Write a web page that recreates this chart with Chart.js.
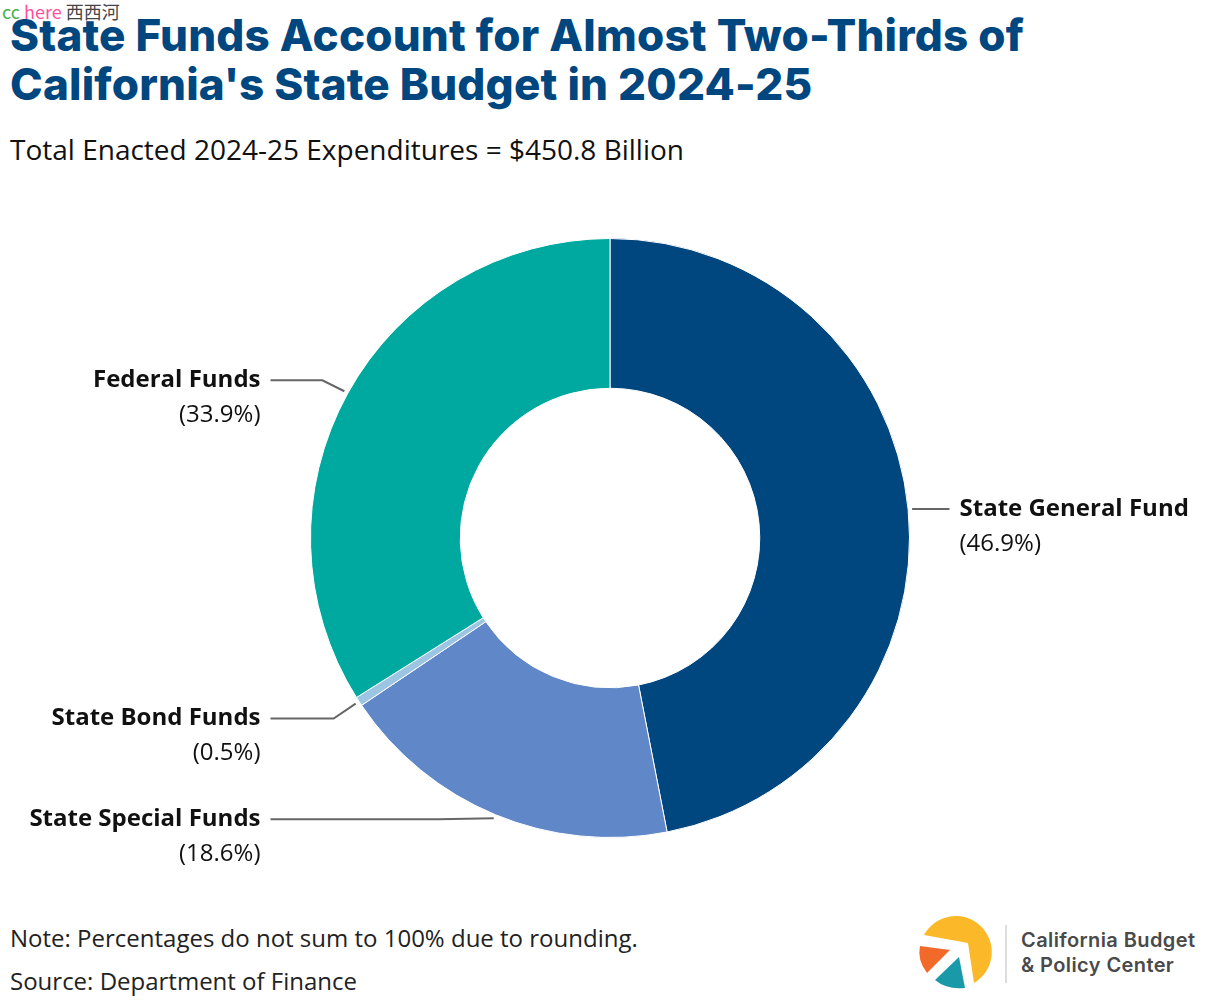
<!DOCTYPE html>
<html lang="en">
<head>
    <meta charset="UTF-8">
    <title>State Funds Account for Almost Two-Thirds of California's State Budget in 2024-25</title>
    <script src="https://cdn.jsdelivr.net/npm/chart.js"></script>
    <style>
        body { margin: 0; width: 1220px; height: 1008px; background: #fff; position: relative; overflow: hidden; font-family: "Open Sans", sans-serif; }
        .abs { position: absolute; white-space: nowrap; }
        #wm { left: 2px; top: -1px; font-size: 18px; line-height: 24px; font-family: "Noto Sans CJK SC", "Noto Sans", sans-serif; }
        #title { left: 10px; top: 11px; font-family: Inter, sans-serif; font-weight: 800; font-size: 44px; line-height: 49px; color: #00467f; letter-spacing: 0.2px; }
        #subtitle { left: 10px; top: 130px; font-size: 28px; color: #111; }
        #note { left: 10px; top: 921px; font-size: 24px; color: #222; }
        #source { left: 10px; top: 964px; font-size: 24px; color: #222; }
        #chartWrap { position: absolute; left: 0; top: 188px; width: 1220px; height: 700px; }
        #logoText { left: 1021px; top: 928px; font-family: Inter, sans-serif; font-weight: 600; font-size: 20px; line-height: 25px; color: #4a4a4a; letter-spacing: 0.4px; }
    </style>
</head>
<body>
    <div id="wm" class="abs"><span style="color:#4caf50">cc</span> <span style="color:#ff4fa0">here</span> <span style="color:#444">西西河</span></div>
    <div id="title" class="abs">State Funds Account for Almost Two-Thirds of<br>California's State Budget in 2024-25</div>
    <div id="subtitle" class="abs">Total Enacted 2024-25 Expenditures = $450.8 Billion</div>
    <div id="chartWrap"><canvas id="budgetChart"></canvas></div>
    <div id="note" class="abs">Note: Percentages do not sum to 100% due to rounding.</div>
    <div id="source" class="abs">Source: Department of Finance</div>

    <svg class="abs" style="left:900px;top:900px" width="110" height="100" viewBox="900 900 110 100">
        <path d="M924 935 A36 36 0 1 1 974 983 L968 943 Z" fill="#fbb829"/>
        <path d="M920 946 L950 950 L927 973 Q917 960 920 946 Z" fill="#f26a2a"/>
        <path d="M935 980 L959 957 L965 988 Q947 990 935 980 Z" fill="#1a9aa8"/>
        <line x1="1006" y1="925" x2="1006" y2="983" stroke="#bbb" stroke-width="1"/>
    </svg>
    <div id="logoText" class="abs">California Budget<br>&amp; Policy Center</div>

    <script>
        // data
        const categories = ['State General Fund', 'State Special Funds', 'State Bond Funds', 'Federal Funds'];
        const shares = [46.9, 18.6, 0.5, 33.9];
        const shareLabels = ['(46.9%)', '(18.6%)', '(0.5%)', '(33.9%)'];
        const sliceColors = ['#00467f', '#6087c7', '#9cc5e3', '#00a99f'];

        // label placement tweaks (y shift from slice anchor, elbow length)
        const labelShift = [0, 1, 15, -11];
        const elbowLen = [0, 55, 22, 22];

        const leaderLabels = {
            id: 'leaderLabels',
            afterDatasetsDraw(chart) {
                const ctx = chart.ctx;
                const arcs = chart.getDatasetMeta(0).data;
                arcs.forEach((arc, i) => {
                    const p = arc.getProps(['x', 'y', 'startAngle', 'endAngle', 'outerRadius']);
                    const mid = (p.startAngle + p.endAngle) / 2;
                    const r = p.outerRadius + 4;
                    const ax = p.x + Math.cos(mid) * r;
                    const ay = p.y + Math.sin(mid) * r;
                    const right = Math.cos(mid) >= 0;
                    const dir = right ? 1 : -1;
                    const ly = ay + labelShift[i];
                    const lineEnd = p.x + dir * (p.outerRadius + 40);
                    const textX = p.x + dir * (p.outerRadius + 50);

                    ctx.save();
                    ctx.strokeStyle = '#666';
                    ctx.lineWidth = 2;
                    ctx.beginPath();
                    ctx.moveTo(ax, ay);
                    ctx.lineTo(ax + dir * elbowLen[i], ly);
                    ctx.lineTo(lineEnd, ly);
                    ctx.stroke();

                    ctx.fillStyle = '#111';
                    ctx.textAlign = right ? 'left' : 'right';
                    ctx.textBaseline = 'middle';
                    ctx.font = 'bold 24px "Open Sans"';
                    ctx.fillText(categories[i], textX, ly);
                    ctx.font = '24px "Open Sans"';
                    ctx.fillText(shareLabels[i], textX, ly + 35);
                    ctx.restore();
                });
            }
        };

        const ctx = document.getElementById('budgetChart').getContext('2d');
        new Chart(ctx, {
            type: 'doughnut',
            data: {
                labels: categories,
                datasets: [{
                    data: shares,
                    backgroundColor: sliceColors,
                    borderColor: '#fff',
                    borderWidth: 1
                }]
            },
            options: {
                responsive: true,
                maintainAspectRatio: false,
                animation: false,
                cutout: '50%',
                layout: { padding: { top: 50, bottom: 50 } },
                plugins: {
                    legend: { display: false },
                    tooltip: { enabled: false }
                }
            },
            plugins: [leaderLabels]
        });
    </script>
</body>
</html>
